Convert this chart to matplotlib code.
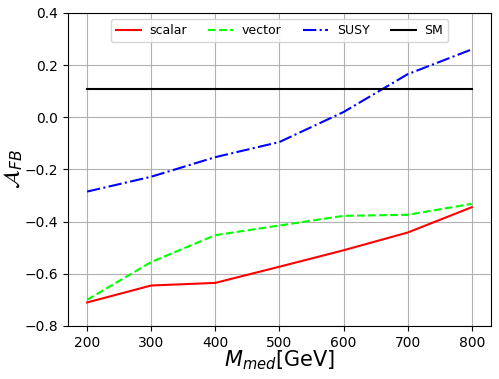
import matplotlib
matplotlib.use("Agg")
import matplotlib.pyplot as plt

masses = [200, 300, 400, 500, 600, 700, 800]
scalar = [-0.71, -0.645, -0.635, -0.573, -0.51, -0.442, -0.345]
vector = [-0.70, -0.555, -0.452, -0.415, -0.378, -0.374, -0.332]
susy = [-0.285, -0.228, -0.153, -0.095, 0.02, 0.165, 0.26]
sm_value = 0.11

fig, ax = plt.subplots(figsize=(4.99, 3.79), dpi=100)
ax.plot(masses, scalar, color='red', linestyle='-', label='scalar')
ax.plot(masses, vector, color='lime', linestyle='--', label='vector')
ax.plot(masses, susy, color='blue', linestyle='-.', label='SUSY')
ax.plot(masses, [sm_value] * len(masses), color='black', linestyle='-', label='SM')
ax.set_ylim(-0.8, 0.4)
ax.set_xlabel(r'$M_{med}$[GeV]', fontsize=15, labelpad=-1)
ax.set_ylabel(r'$\mathcal{A}_{FB}$', fontsize=16, labelpad=0)
ax.grid(True)
ax.legend(ncol=4, loc='upper center', fontsize=9, columnspacing=1.7,
          handletextpad=0.7)
fig.subplots_adjust(left=0.136, right=0.984, top=0.966, bottom=0.14)
fig.savefig('out.png', dpi=100)
